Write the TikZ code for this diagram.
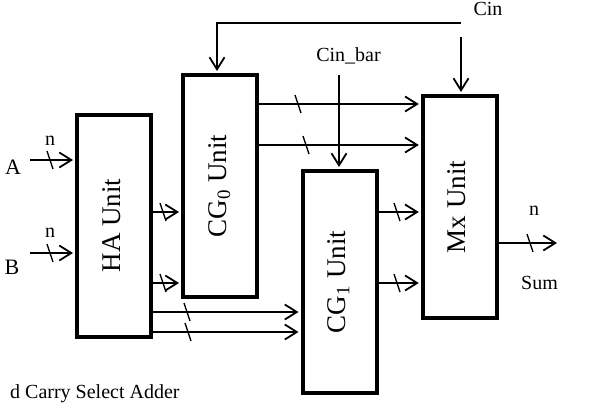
\documentclass[tikz,border=0pt]{standalone}
\usepackage{fontspec}
\setmainfont{Liberation Serif}
\usepackage{tikz}
\usetikzlibrary{positioning, arrows.meta, calc}
\definecolor{cWire}{HTML}{000000}
\definecolor{cBox} {HTML}{000000}

\tikzset{
  unitbox/.style={draw=cBox, line width=4pt, minimum width=74pt, minimum height=222pt,
    inner sep=0pt, font=\fontsize{27}{30}\selectfont},
  wire/.style={draw=cWire, line width=1.8pt,
    -{Straight Barb[length=12pt,width=15pt,line width=1.8pt]}, shorten >=2pt},
  busmark/.style={draw=cWire, line width=1.4pt},
  lbl/.style={font=\fontsize{20}{24}\selectfont, inner sep=0pt, anchor=base},
  portlbl/.style={lbl, font=\fontsize{22}{26}\selectfont},
}
\newcommand\busslash[1]{\draw[busmark] ($(#1)+(-3,-9)$) -- ($(#1)+(3,9)$);}

\begin{document}
\begin{tikzpicture}[x=1pt, y=-1pt]
  \useasboundingbox (0,0) rectangle (599,404);

  % units
  \node[unitbox] (ha)  at (114,225.5)   {\rotatebox{90}{\strut HA Unit}};
  \node[unitbox] (cg0) at (220,186)     {\rotatebox{90}{\strut CG\textsubscript{0} Unit}};
  \node[unitbox] (cg1) at (339.5,282)   {\rotatebox{90}{\strut CG\textsubscript{1} Unit}};
  \node[unitbox] (mx)  at (459.75,207)  {\rotatebox{90}{\strut Mx Unit}};

  % free ends
  \coordinate (ina)    at (30,160);
  \coordinate (inb)    at (30,253);
  \coordinate (cinbar) at (339,75);
  \coordinate (cin)    at (461,37);
  \coordinate (fbk)    at (461,23);
  \coordinate (sumout) at (557,243);

  % inputs
  \draw[wire] (ina) -- (ha.west |- ina);
  \draw[wire] (inb) -- (ha.west |- inb);
  \busslash{50,160}
  \busslash{50,253}
  \node[portlbl] (lblA)  at (13,174) {A};
  \node[portlbl] (lblB)  at (12,274) {B};
  \node[lbl] (lblnA) at (50,145) {n};
  \node[lbl] (lblnB) at (50,237) {n};

  % HA outputs
  \draw[wire] (ha.east |- 0,212) -- (cg0.west |- 0,212);
  \draw[wire] (ha.east |- 0,283) -- (cg0.west |- 0,283);
  \draw[wire] (ha.east |- 0,312) -- (cg1.west |- 0,312);
  \draw[wire] (ha.east |- 0,332) -- (cg1.west |- 0,332);
  \busslash{163,212}
  \busslash{163,283}
  \busslash{187,312}
  \busslash{188,332}

  % carry generators to mux
  \draw[wire] (cg0.east |- 0,104) -- (mx.west |- 0,104);
  \draw[wire] (cg0.east |- 0,145) -- (mx.west |- 0,145);
  \draw[wire] (cg1.east |- 0,212) -- (mx.west |- 0,212);
  \draw[wire] (cg1.east |- 0,283) -- (mx.west |- 0,283);
  \busslash{298,104}
  \busslash{306,145}
  \busslash{397,212}
  \busslash{397,283}

  % carry in
  \draw[wire] (cinbar) -- (cinbar |- cg1.north);
  \draw[wire] (cin) -- (cin |- mx.north);
  \draw[wire] (fbk) -| ([xshift=-3pt]cg0.north);
  \node[lbl] (lblCinbar) at (348.5,61) {Cin\_bar};
  \node[lbl] (lblCin)    at (488,15.5) {Cin};

  % output
  \draw[wire, shorten >=0pt] (mx.east |- sumout) -- (sumout);
  \busslash{530,243}
  \node[lbl] (lblnS) at (534,215)   {n};
  \node[lbl] (lblSum) at (539.5,289) {Sum};

  \node[lbl, anchor=base west] (caption) at (10,398) {d Carry Select Adder};
\end{tikzpicture}
\end{document}
